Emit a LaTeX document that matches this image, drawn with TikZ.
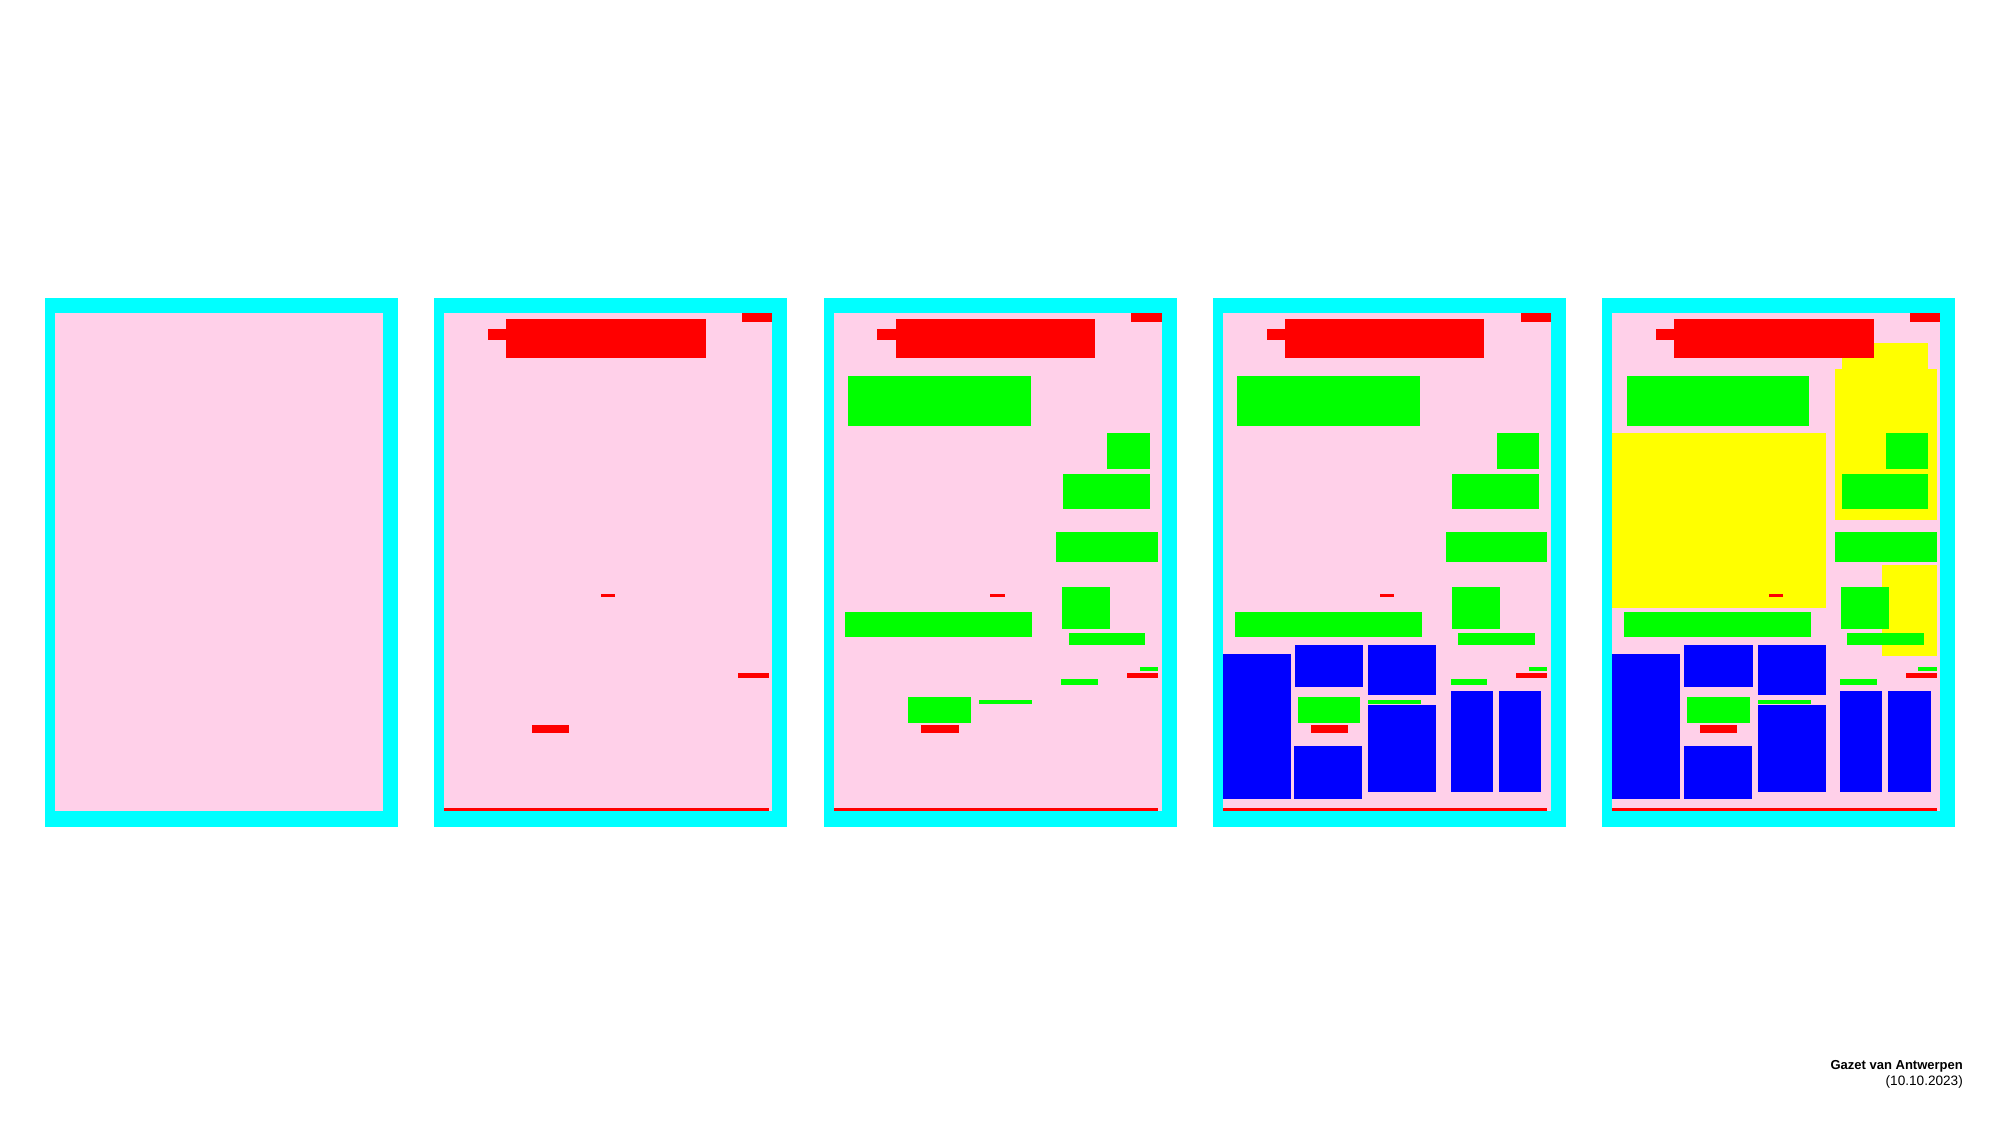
\documentclass[tikz,border=0pt]{standalone}
\usepackage{fontspec}
\setmainfont{Liberation Sans}
\definecolor{cframe}{HTML}{00FFFF}
\definecolor{cpage}{HTML}{FFD0E9}
\definecolor{cred}{HTML}{FF0000}
\definecolor{cgreen}{HTML}{00FF00}
\definecolor{cblue}{HTML}{0000FF}
\definecolor{cyellow}{HTML}{FFFF00}
\tikzset{
  frame/.style={fill=cframe},
  page/.style={fill=cpage},
  rblk/.style={fill=cred},
  gblk/.style={fill=cgreen},
  bblk/.style={fill=cblue},
  yblk/.style={fill=cyellow},
  lbl/.style={inner sep=0pt, anchor=base east}
}
\begin{document}
\begin{tikzpicture}[x=1pt,y=-1pt]
\fill[white] (0,0) rectangle (2000,1125);
\useasboundingbox (0,0) rectangle (2000,1125);
\foreach \i in {0,...,4}{
  \begin{scope}[shift={(45+\i*389.3,298.3)}]
    \fill[frame] (0,0) rectangle (353,528.4);
    \fill[page] (10,15) rectangle (338,512.4);
    \ifnum\i=4
      \fill[yblk] (239.4,45) rectangle (326,72);
      \fill[yblk] (232.7,71) rectangle (334.4,221.7);
      \fill[yblk] (10,135) rectangle (223.7,309.4);
      \fill[yblk] (280,267) rectangle (334.4,357.7);
    \fi
    \ifnum\i>1
      \fill[gblk] (24.4,77.4) rectangle (207,127.7);
      \fill[gblk] (283.7,135) rectangle (326,170.7);
      \fill[gblk] (239.4,175.4) rectangle (326,210.7);
      \fill[gblk] (232.7,234) rectangle (334.4,264);
      \fill[gblk] (21.7,313.7) rectangle (208.7,338.7);
      \fill[gblk] (238.7,288.4) rectangle (286.7,330.4);
      \fill[gblk] (245,334.4) rectangle (321.7,347);
      \fill[gblk] (316,368.4) rectangle (334.4,373);
      \fill[gblk] (237.7,380.7) rectangle (274.4,386.7);
      \fill[gblk] (84.7,399) rectangle (147.4,424.4);
      \fill[gblk] (155.4,401.7) rectangle (208.4,405.7);
    \fi
    \ifnum\i>0
      \fill[rblk] (307.7,15) rectangle (338,23.7);
      \fill[rblk] (72,20.7) rectangle (271.4,59.7);
      \fill[rblk] (53.7,30.7) rectangle (72.7,41.7);
      \fill[rblk] (166.7,295.4) rectangle (181,298.7);
      \fill[rblk] (303.4,375) rectangle (334.4,379.4);
      \fill[rblk] (97.7,426.4) rectangle (135,435);
      \fill[rblk] (10,509.4) rectangle (334.4,512.7);
    \fi
    \ifnum\i>2
      \fill[bblk] (10,355.7) rectangle (77.7,500.4);
      \fill[bblk] (82,347) rectangle (150.4,388.7);
      \fill[bblk] (155.4,347) rectangle (223.4,397);
      \fill[bblk] (81.4,447.4) rectangle (149.4,500.4);
      \fill[bblk] (155.4,407) rectangle (223.4,493.4);
      \fill[bblk] (237.7,392.7) rectangle (279.7,493.4);
      \fill[bblk] (286,392.7) rectangle (328.4,493.4);
    \fi
  \end{scope}
}
\node[lbl, font=\fontsize{13}{15}\selectfont\bfseries] (title) at (1963,1069.5) {Gazet van Antwerpen};
\node[lbl, font=\fontsize{13.6}{15}\selectfont] (date) at (1963,1085) {(10.10.2023)};
\end{tikzpicture}
\end{document}
